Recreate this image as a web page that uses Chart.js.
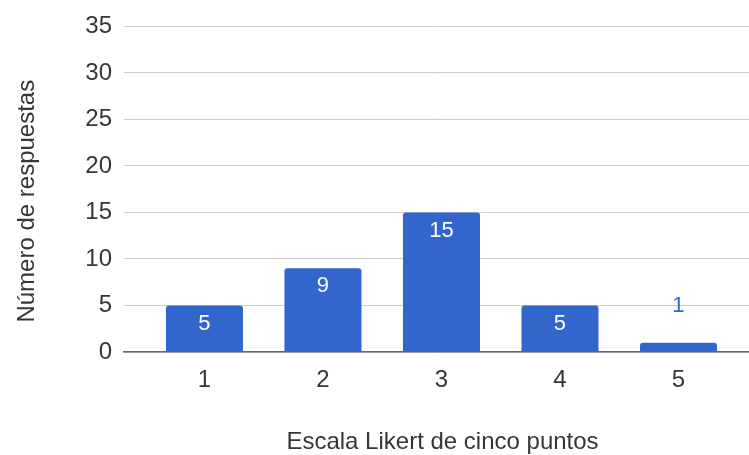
<!DOCTYPE html>
<html>
<head>
<meta charset="utf-8">
<script src="https://cdn.jsdelivr.net/npm/chart.js@4"></script>
<style>
html,body{margin:0;padding:0;background:#fff;}
canvas{display:block;}
</style>
</head>
<body>
<canvas id="c" width="749" height="455"></canvas>
<script>
const categories = [1, 2, 3, 4, 5];
const responses = [5, 9, 15, 5, 1];
const yTicks = [0, 5, 10, 15, 20, 25, 30, 35];
const xTitle = 'Escala Likert de cinco puntos';
const yTitle = 'Número de respuestas';

const BAR = '#3366cc';
const TEXT = '#363636';
const FONT = '"Liberation Sans", Arial, sans-serif';

const labelsPlugin = {
  id: 'barLabels',
  afterDatasetsDraw(chart) {
    const ctx = chart.ctx;
    const meta = chart.getDatasetMeta(0);
    ctx.save();
    ctx.font = '22px ' + FONT;
    ctx.textAlign = 'center';
    ctx.textBaseline = 'middle';
    meta.data.forEach((bar, i) => {
      const v = responses[i];
      const h = bar.base - bar.y;
      if (h > 30) {
        ctx.fillStyle = '#ffffff';
        ctx.fillText(String(v), bar.x, bar.y + 18);
      } else {
        ctx.fillStyle = BAR;
        ctx.fillText(String(v), bar.x, bar.y - 37);
      }
    });
    ctx.restore();
  }
};

const titlesPlugin = {
  id: 'axisTitles',
  afterDraw(chart) {
    const ctx = chart.ctx;
    const a = chart.chartArea;
    ctx.save();
    ctx.fillStyle = TEXT;
    ctx.font = '24px ' + FONT;
    ctx.textAlign = 'center';
    ctx.textBaseline = 'middle';
    ctx.fillText(xTitle, (a.left + a.right) / 2 + 6, a.bottom + 90);
    ctx.translate(27, (a.top + a.bottom) / 2 + 12);
    ctx.rotate(-Math.PI / 2);
    ctx.fillText(yTitle, 0, 0);
    ctx.restore();
  }
};

new Chart(document.getElementById('c'), {
  type: 'bar',
  data: {
    datasets: [{
      data: categories.map((c, i) => ({ x: c, y: responses[i] })),
      backgroundColor: BAR,
      borderRadius: 3,
      barPercentage: 0.65,
      categoryPercentage: 1
    }]
  },
  options: {
    responsive: false,
    devicePixelRatio: 1,
    animation: false,
    layout: { padding: { top: 25, right: 0, left: 0, bottom: 0 } },
    plugins: { legend: { display: false }, tooltip: { enabled: false } },
    scales: {
      x: {
        type: 'linear',
        offset: false,
        min: 0.321,
        max: 5.595,
        afterBuildTicks: (axis) => { axis.ticks = categories.map(v => ({ value: v })); },
        afterFit: (axis) => { axis.height = 103; },
        grid: { display: false, drawTicks: false },
        border: { display: true, color: '#666666', width: 1.5 },
        ticks: {
          color: TEXT,
          font: { family: FONT, size: 24 },
          padding: 14,
          maxRotation: 0,
          callback: (v) => String(v)
        }
      },
      y: {
        min: 0,
        max: 35,
        afterBuildTicks: (axis) => { axis.ticks = yTicks.map(v => ({ value: v })); },
        afterFit: (axis) => { axis.width = 124; },
        grid: { color: '#cccccc', lineWidth: 1, drawTicks: false },
        border: { display: false },
        ticks: {
          color: TEXT,
          font: { family: FONT, size: 24 },
          padding: 12
        }
      }
    }
  },
  plugins: [labelsPlugin, titlesPlugin]
});
</script>
</body>
</html>
